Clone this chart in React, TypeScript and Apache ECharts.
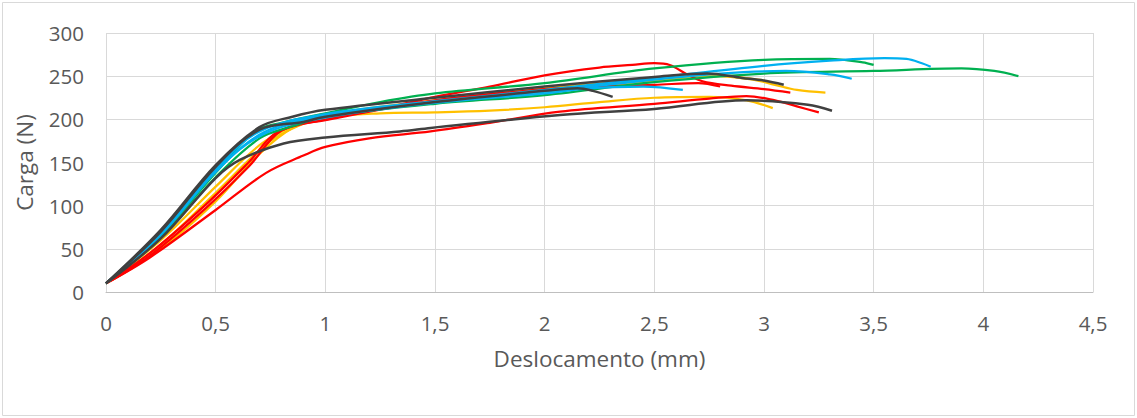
import React, { useEffect, useRef } from "react";
import * as echarts from "echarts";

// Deslocamento (mm), Carga (N) pairs for each test curve
const yellow1: number[][] = [[0,10],[0.25,50],[0.5,105],[0.7,160],[0.85,190],[1.0,202],[1.25,207],[1.5,208],[1.75,210],[2.0,214],[2.25,220],[2.5,225],[2.75,226],[2.92,222],[3.04,213]];
const yellow2: number[][] = [[0,10],[0.25,55],[0.5,115],[0.75,175],[0.9,195],[1.0,203],[1.5,220],[2.0,232],[2.5,245],[2.75,251],[2.95,246],[3.05,240],[3.15,234],[3.28,231]];
const yellow3: number[][] = [[0,10],[0.25,60],[0.5,122],[0.7,170],[0.85,192],[1.0,205],[1.5,222],[2.0,236],[2.5,246],[2.8,250],[3.0,245]];
const red1: number[][] = [[0,10],[0.2,45],[0.45,100],[0.65,150],[0.78,185],[1.0,200],[1.25,212],[1.5,226],[1.75,238],[2.0,251],[2.25,260],[2.4,263],[2.5,265],[2.57,263],[2.65,252],[2.72,244],[2.85,239],[3.0,235],[3.12,231]];
const red2: number[][] = [[0,10],[0.2,42],[0.45,96],[0.65,145],[0.8,187],[1.0,199],[1.5,222],[2.0,235],[2.2,238],[2.5,240],[2.7,242],[2.8,238]];
const red3: number[][] = [[0,10],[0.2,40],[0.5,95],[0.73,138],[0.9,158],[1.0,168],[1.2,178],[1.48,186],[1.75,196],[2.07,209],[2.5,218],[2.75,224],[2.92,227],[3.05,222],[3.15,215],[3.25,208]];
const green1: number[][] = [[0,10],[0.25,66],[0.5,138],[0.68,186],[0.8,196],[1.0,207],[1.25,220],[1.5,230],[2.0,242],[2.5,259],[3.0,269],[3.3,270],[3.45,266],[3.5,263]];
const green2: number[][] = [[0,10],[0.25,63],[0.5,133],[0.7,178],[0.85,192],[1.0,203],[1.5,218],[2.0,228],[2.5,243],[3.0,253],[3.5,256],[3.9,259],[4.05,256],[4.16,250]];
const blue1: number[][] = [[0,10],[0.25,68],[0.5,142],[0.7,186],[1.0,206],[1.5,221],[2.0,234],[2.5,248],[3.0,262],[3.3,268],[3.55,271],[3.65,270],[3.72,265],[3.76,261]];
const blue2: number[][] = [[0,10],[0.25,66],[0.5,139],[0.72,185],[1.0,204],[1.5,220],[2.0,232],[2.5,246],[2.8,253],[3.1,256],[3.3,252],[3.4,247]];
const blue3: number[][] = [[0,10],[0.25,67],[0.5,140],[0.72,183],[1.0,202],[1.5,219],[2.0,230],[2.2,236],[2.45,238],[2.63,234]];
const dark1: number[][] = [[0,10],[0.25,72],[0.5,147],[0.7,191],[0.85,203],[1.0,211],[1.5,225],[2.0,238],[2.5,249],[2.74,253],[2.9,248],[3.0,245],[3.09,240]];
const dark2: number[][] = [[0,10],[0.25,62],[0.5,132],[0.61,153],[0.81,172],[1.0,179],[1.34,186],[1.48,190],[2.07,205],[2.5,212],[2.92,222],[3.2,217],[3.31,210]];
const dark3: number[][] = [[0,10],[0.25,70],[0.5,145],[0.7,188],[0.9,197],[1.0,203],[1.5,220],[2.0,233],[2.15,236],[2.22,233],[2.31,226]];

const curves: { data: number[][]; color: string; width: number }[] = [
  { data: yellow1, color: "#FFC000", width: 2.25 },
  { data: yellow2, color: "#FFC000", width: 2.25 },
  { data: yellow3, color: "#FFC000", width: 2.25 },
  { data: red1, color: "#FF0000", width: 2.25 },
  { data: red2, color: "#FF0000", width: 2.25 },
  { data: red3, color: "#FF0000", width: 2.25 },
  { data: green1, color: "#00B050", width: 2.25 },
  { data: green2, color: "#00B050", width: 2.25 },
  { data: blue1, color: "#00B0F0", width: 2.25 },
  { data: blue2, color: "#00B0F0", width: 2.25 },
  { data: blue3, color: "#00B0F0", width: 2.25 },
  { data: dark1, color: "#404040", width: 2.5 },
  { data: dark2, color: "#404040", width: 2.5 },
  { data: dark3, color: "#404040", width: 2.5 },
];

const FONT = "Open Sans";

export default function App() {
  const ref = useRef<HTMLDivElement>(null);
  useEffect(() => {
    document.body.style.margin = "0";
    const chart = echarts.init(ref.current!, null, { renderer: "svg" });
    chart.setOption({
      animation: false,
      backgroundColor: "#ffffff",
      textStyle: { fontFamily: FONT },
      graphic: [
        {
          type: "rect",
          shape: { x: 2.5, y: 2.5, width: 1132, height: 413 },
          style: { fill: "none", stroke: "#d9d9d9", lineWidth: 1 },
          silent: true,
        },
      ],
      grid: { left: 106, right: 44, top: 33, bottom: 126 },
      xAxis: {
        type: "value",
        min: 0,
        max: 4.5,
        interval: 0.5,
        name: "Deslocamento (mm)",
        nameLocation: "middle",
        nameGap: 55,
        nameTextStyle: { fontSize: 22.5, color: "#595959", fontFamily: FONT },
        axisLine: { show: true, lineStyle: { color: "#bfbfbf", width: 1 } },
        axisTick: { show: false },
        axisLabel: {
          color: "#595959",
          fontSize: 20.5,
          fontFamily: FONT,
          margin: 20,
          formatter: (v: number) => String(v).replace(".", ","),
        },
        splitLine: { show: true, lineStyle: { color: "#d9d9d9", width: 1 } },
      },
      yAxis: {
        type: "value",
        min: 0,
        max: 300,
        interval: 50,
        name: "Carga (N)",
        nameLocation: "middle",
        nameGap: 70,
        nameTextStyle: { fontSize: 22.5, color: "#595959", fontFamily: FONT },
        axisLine: { show: false },
        axisTick: { show: false },
        axisLabel: { color: "#595959", fontSize: 20.5, fontFamily: FONT, margin: 22 },
        splitLine: { show: true, lineStyle: { color: "#d9d9d9", width: 1 } },
      },
      series: curves.map((c) => ({
        type: "line",
        data: c.data,
        smooth: 0.35,
        showSymbol: false,
        symbol: "none",
        lineStyle: { color: c.color, width: c.width },
        itemStyle: { color: c.color },
        silent: true,
      })),
    });
    return () => chart.dispose();
  }, []);
  return <div ref={ref} style={{ width: 1137, height: 418 }} />;
}
